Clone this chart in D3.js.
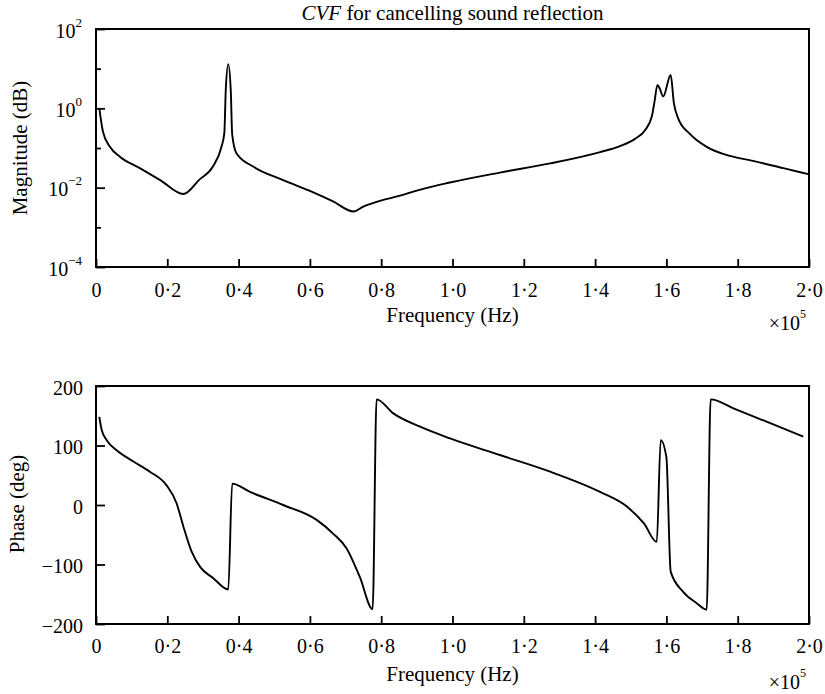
<!DOCTYPE html>
<html><head><meta charset="utf-8">
<script src="https://cdn.jsdelivr.net/npm/d3@7"></script>
<style>
body{margin:0;background:#fff;}
svg, svg text{font-family:"Liberation Serif","DejaVu Serif",serif !important;fill:#000;}
</style></head><body>
<svg id="chart" width="825" height="694" style="font-family:'Liberation Serif','DejaVu Serif',serif"></svg>
<script>
// ---- data (frequency in units of 10^5 Hz) ----
const xTicks = [0, 0.2, 0.4, 0.6, 0.8, 1.0, 1.2, 1.4, 1.6, 1.8, 2.0];
const xTickLabels = ["0", "0·2", "0·4", "0·6", "0·8", "1·0", "1·2", "1·4", "1·6", "1·8", "2·0"];

const magTicksMajor = [1e-4, 1e-2, 1e0, 1e2];
const magTickExponents = ["−4", "−2", "0", "2"];
const magTicksMinor = [1e-3, 1e-1, 1e1];

const phaseTicks = [-200, -100, 0, 100, 200];
const phaseTickLabels = ["−200", "−100", "0", "100", "200"];

const magFreq = [0.0093, 0.0196, 0.039, 0.067, 0.123, 0.18, 0.245, 0.29, 0.328, 0.352, 0.360, 0.364, 0.371, 0.378, 0.382, 0.394, 0.441, 0.525, 0.60, 0.665, 0.722, 0.75, 0.787, 0.853, 0.92, 0.993, 1.133, 1.274, 1.414, 1.470, 1.512, 1.540, 1.559, 1.566, 1.575, 1.581, 1.591, 1.612, 1.621, 1.633, 1.665, 1.713, 1.778, 1.830, 1.928, 1.998];
const magValues = [1.0, 0.257, 0.107, 0.060, 0.031, 0.0155, 0.0069, 0.016, 0.034, 0.107, 0.24, 2.9, 13, 2.9, 0.22, 0.074, 0.034, 0.0155, 0.0083, 0.0045, 0.0025, 0.00335, 0.0044, 0.0063, 0.0095, 0.0135, 0.024, 0.041, 0.079, 0.112, 0.17, 0.28, 0.62, 1.35, 3.9, 3.2, 2.0, 6.9, 1.35, 0.56, 0.23, 0.107, 0.063, 0.050, 0.031, 0.022];

const phaseFreq = [0.0093, 0.016, 0.03, 0.058, 0.105, 0.151, 0.198, 0.226, 0.245, 0.268, 0.292, 0.329, 0.371, 0.382, 0.432, 0.525, 0.619, 0.665, 0.703, 0.74, 0.776, 0.787, 0.834, 0.909, 0.993, 1.133, 1.274, 1.414, 1.49, 1.537, 1.573, 1.584, 1.600, 1.612, 1.647, 1.685, 1.713, 1.724, 1.788, 1.881, 1.984];
const phaseValues = [148, 126, 109, 92, 73, 56, 33, 3, -36, -78, -104, -123, -142, 36, 22, 0, -25, -48, -73, -121, -175, 177.6, 154, 131.6, 112, 84, 56, 22, -3, -31, -62, 109, 80, -112, -146, -165, -176, 177.6, 162.5, 140, 115];

// ---- layout ----
const svg = d3.select("#chart");
const L = 96, R = 809;
const top1 = 29, bot1 = 267;
const top2 = 386, bot2 = 624;
const FONT = "'Liberation Serif','DejaVu Serif',serif";

const x = d3.scaleLinear().domain([0, 2]).range([L, R]);
const yMag = d3.scaleLog().domain([1e-4, 1e2]).range([bot1, top1]);
const yPh = d3.scaleLinear().domain([-200, 200]).range([bot2, top2]);

function styleAxis(g) {
  g.attr("font-family", FONT);
  g.select(".domain").remove();
  g.selectAll(".tick line").attr("stroke", "#000").attr("stroke-width", 1.8);
  g.selectAll("text").attr("font-size", 20).style("font-family", FONT);
}

function xAxis(yPos, labelY) {
  const g = svg.append("g").attr("transform", `translate(0,${yPos})`)
    .call(d3.axisBottom(x).tickValues(xTicks).tickSize(-8).tickFormat((d, i) => xTickLabels[i]));
  styleAxis(g);
  g.selectAll("text").attr("y", labelY).attr("dy", 0);
}

function label(xp, yp, size, txt) {
  return svg.append("text").attr("x", xp).attr("y", yp).attr("text-anchor", "middle")
    .attr("font-size", size).style("font-family", FONT).text(txt);
}

const curve = d3.curveMonotoneX;

// ---- top panel ----
xAxis(bot1, 30);
const gMajor = svg.append("g").attr("transform", `translate(${L},0)`)
  .call(d3.axisLeft(yMag).tickValues(magTicksMajor).tickSize(-9).tickPadding(14).tickFormat(() => "10"));
styleAxis(gMajor);
gMajor.selectAll("text").attr("dy", "0.4em").each(function(d, i) {
  d3.select(this).append("tspan").attr("dy", -11).attr("font-size", 13).text(magTickExponents[i]);
});
const gMinor = svg.append("g").attr("transform", `translate(${L},0)`)
  .call(d3.axisLeft(yMag).tickValues(magTicksMinor).tickSize(-5).tickFormat(() => ""));
styleAxis(gMinor);

svg.append("path")
  .datum(magFreq.map((f, i) => [f, magValues[i]]))
  .attr("fill", "none").attr("stroke", "#000").attr("stroke-width", 1.9).attr("stroke-linejoin", "round")
  .attr("d", d3.line().x(d => x(d[0])).y(d => yMag(d[1])).curve(curve));

svg.append("rect").attr("x", L).attr("y", top1).attr("width", R - L).attr("height", bot1 - top1)
  .attr("fill", "none").attr("stroke", "#000").attr("stroke-width", 2);

// title
const title = label((L + R) / 2, 20, 21, null);
title.append("tspan").attr("font-style", "italic").text("CVF");
title.append("tspan").text(" for cancelling sound reflection");

label((L + R) / 2, 322, 21, "Frequency (Hz)");
const sc1 = svg.append("text").attr("x", 806).attr("y", 330).attr("text-anchor", "end").attr("font-size", 20).style("font-family", FONT);
sc1.append("tspan").text("×10");
sc1.append("tspan").attr("dy", -12).attr("font-size", 12).text("5");

svg.append("text").attr("transform", `translate(27,148) rotate(-90)`).attr("text-anchor", "middle")
  .attr("font-size", 21).style("font-family", FONT).text("Magnitude (dB)");

// ---- bottom panel ----
xAxis(bot2, 29);
const gPh = svg.append("g").attr("transform", `translate(${L},0)`)
  .call(d3.axisLeft(yPh).tickValues(phaseTicks).tickSize(-9).tickPadding(13).tickFormat((d, i) => phaseTickLabels[i]));
styleAxis(gPh);
gPh.selectAll("text").attr("dy", "0.4em");

svg.append("path")
  .datum(phaseFreq.map((f, i) => [f, phaseValues[i]]))
  .attr("fill", "none").attr("stroke", "#000").attr("stroke-width", 1.9).attr("stroke-linejoin", "round")
  .attr("d", d3.line().x(d => x(d[0])).y(d => yPh(d[1])).curve(curve));

svg.append("rect").attr("x", L).attr("y", top2).attr("width", R - L).attr("height", bot2 - top2)
  .attr("fill", "none").attr("stroke", "#000").attr("stroke-width", 2);

label((L + R) / 2, 681, 21, "Frequency (Hz)");
const sc2 = svg.append("text").attr("x", 806).attr("y", 689).attr("text-anchor", "end").attr("font-size", 20).style("font-family", FONT);
sc2.append("tspan").text("×10");
sc2.append("tspan").attr("dy", -12).attr("font-size", 12).text("5");

svg.append("text").attr("transform", `translate(24,504) rotate(-90)`).attr("text-anchor", "middle")
  .attr("font-size", 21).style("font-family", FONT).text("Phase (deg)");
</script>
</body></html>
